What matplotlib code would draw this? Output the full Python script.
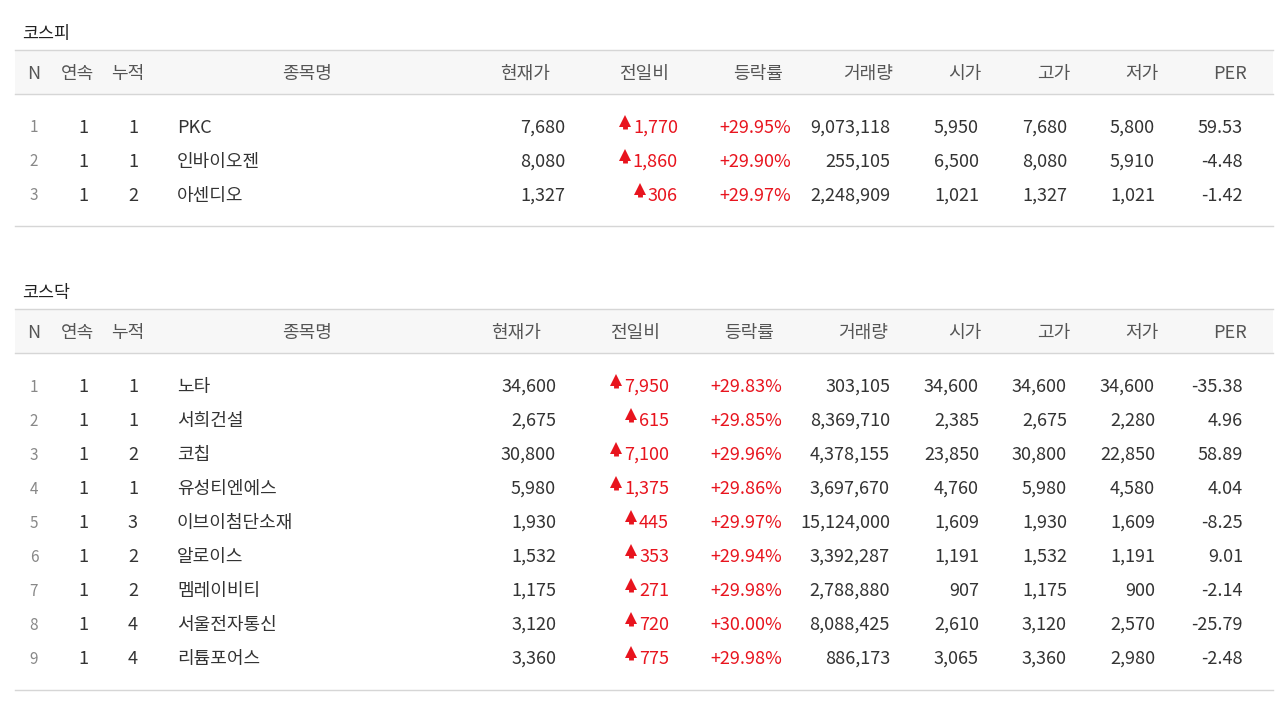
import matplotlib
matplotlib.use("Agg")
import matplotlib.pyplot as plt
from matplotlib.patches import Rectangle

plt.rcParams['font.family'] = ['Noto Sans CJK KR', 'DejaVu Sans']

headers = ["N", "연속", "누적", "종목명", "현재가", "전일비", "등락률", "거래량", "시가", "고가", "저가", "PER"]

kospi_names = ["PKC", "인바이오젠", "아센디오"]
kospi_streak = [1, 1, 1]
kospi_cum = [1, 1, 2]
kospi_price = ["7,680", "8,080", "1,327"]
kospi_change = ["1,770", "1,860", "306"]
kospi_rate = ["+29.95%", "+29.90%", "+29.97%"]
kospi_volume = ["9,073,118", "255,105", "2,248,909"]
kospi_open = ["5,950", "6,500", "1,021"]
kospi_high = ["7,680", "8,080", "1,327"]
kospi_low = ["5,800", "5,910", "1,021"]
kospi_per = ["59.53", "-4.48", "-1.42"]

kosdaq_names = ["노타", "서희건설", "코칩", "유성티엔에스", "이브이첨단소재", "알로이스", "멤레이비티", "서울전자통신", "리튬포어스"]
kosdaq_streak = [1, 1, 1, 1, 1, 1, 1, 1, 1]
kosdaq_cum = [1, 1, 2, 1, 3, 2, 2, 4, 4]
kosdaq_price = ["34,600", "2,675", "30,800", "5,980", "1,930", "1,532", "1,175", "3,120", "3,360"]
kosdaq_change = ["7,950", "615", "7,100", "1,375", "445", "353", "271", "720", "775"]
kosdaq_rate = ["+29.83%", "+29.85%", "+29.96%", "+29.86%", "+29.97%", "+29.94%", "+29.98%", "+30.00%", "+29.98%"]
kosdaq_volume = ["303,105", "8,369,710", "4,378,155", "3,697,670", "15,124,000", "3,392,287", "2,788,880", "8,088,425", "886,173"]
kosdaq_open = ["34,600", "2,385", "23,850", "4,760", "1,609", "1,191", "907", "2,610", "3,065"]
kosdaq_high = ["34,600", "2,675", "30,800", "5,980", "1,930", "1,532", "1,175", "3,120", "3,360"]
kosdaq_low = ["34,600", "2,280", "22,850", "4,580", "1,609", "1,191", "900", "2,570", "2,980"]
kosdaq_per = ["-35.38", "4.96", "58.89", "4.04", "-8.25", "9.01", "-2.14", "-25.79", "-2.48"]

fig = plt.figure(figsize=(12.8, 7.05), dpi=100)
ax = fig.add_axes([0, 0, 1, 1])
ax.set_xlim(0, 1280)
ax.set_ylim(705, 0)
ax.axis('off')

RED = "#e8141e"
TXT = "#333333"
HDR = "#555555"
FS = 13

def table(title, ty, hy0, hy1, row0, bottom, names, streak, cum, price, change, rate, vol, op, hi, lo, per, shift):
    ax.text(22, ty + 2, title, fontsize=12.5, color="#222", va='center', ha='left')
    ax.add_patch(Rectangle((15, hy0), 1258, hy1 - hy0, facecolor="#f7f7f7", edgecolor='none'))
    ax.plot([15, 1273], [hy0, hy0], color="#d6d6d6", lw=1)
    ax.plot([15, 1273], [hy1, hy1], color="#d6d6d6", lw=1)
    ax.plot([15, 1273], [bottom, bottom], color="#d6d6d6", lw=1)
    hx = [34, 78, 128, 307, 525 - shift, 644 - shift, 758 - shift, 868 - 5 * (shift > 0), 965, 1054, 1142, 1230]
    hyc = (hy0 + hy1) / 2 + 2
    for x, h in zip(hx, headers):
        ax.text(x, hyc, h, fontsize=FS, color=HDR, ha='center', va='center')
    renderer = fig.canvas.get_renderer()
    inv = ax.transData.inverted()
    for i in range(len(names)):
        y = row0 + 34 * i + 2
        ax.text(34, y, str(i + 1), fontsize=11, color="#888", ha='center', va='center')
        ax.text(83, y, str(streak[i]), fontsize=FS, color=TXT, ha='center', va='center')
        ax.text(133, y, str(cum[i]), fontsize=FS, color=TXT, ha='center', va='center')
        ax.text(177, y, names[i], fontsize=FS, color=TXT, ha='left', va='center')
        ax.text(565 - shift, y, price[i], fontsize=FS, color=TXT, ha='right', va='center')
        t = ax.text(678 - shift, y, change[i], fontsize=FS, color=RED, ha='right', va='center')
        bb = t.get_window_extent(renderer)
        ax_x = inv.transform((bb.x0, 0))[0] - 8
        ax.plot([ax_x, ax_x], [y + 1, y - 6], color=RED, lw=3.5, solid_capstyle='butt')
        ax.plot([ax_x], [y - 7], marker='^', color=RED, markersize=8, markeredgewidth=0)
        ax.text(791 - shift, y, rate[i], fontsize=FS, color=RED, ha='right', va='center')
        ax.text(890, y, vol[i], fontsize=FS, color=TXT, ha='right', va='center')
        ax.text(979, y, op[i], fontsize=FS, color=TXT, ha='right', va='center')
        ax.text(1067, y, hi[i], fontsize=FS, color=TXT, ha='right', va='center')
        ax.text(1155, y, lo[i], fontsize=FS, color=TXT, ha='right', va='center')
        ax.text(1243, y, per[i], fontsize=FS, color=TXT, ha='right', va='center')

table("코스피", 32, 50, 94, 126, 226, kospi_names, kospi_streak, kospi_cum, kospi_price, kospi_change,
      kospi_rate, kospi_volume, kospi_open, kospi_high, kospi_low, kospi_per, 0)
table("코스닥", 291, 309, 353, 385, 690, kosdaq_names, kosdaq_streak, kosdaq_cum, kosdaq_price, kosdaq_change,
      kosdaq_rate, kosdaq_volume, kosdaq_open, kosdaq_high, kosdaq_low, kosdaq_per, 9)

fig.savefig("out.png", dpi=100, facecolor='white')
